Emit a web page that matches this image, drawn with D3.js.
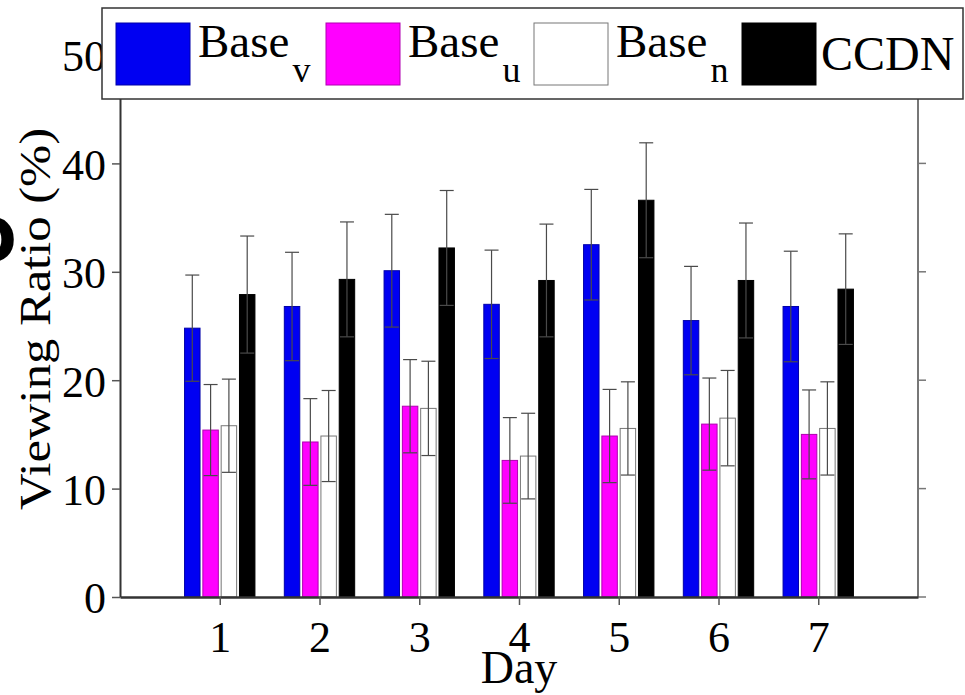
<!DOCTYPE html>
<html><head><meta charset="utf-8">
<script src="https://cdn.jsdelivr.net/npm/d3@7"></script>
<style>
html,body{margin:0;padding:0;background:#fff;}
svg{display:block;}
text{font-family:"Liberation Serif","Times New Roman",serif;fill:#000;}
</style></head>
<body>
<svg id="chart" width="965" height="695"></svg>
<script>
// ---- data ----
const days = [1, 2, 3, 4, 5, 6, 7];
const baseV = [24.8, 26.8, 30.1, 27.0, 32.5, 25.5, 26.8];
const baseVErr = [4.9, 5.0, 5.2, 5.0, 5.1, 5.0, 5.1];
const baseU = [15.4, 14.3, 17.6, 12.6, 14.85, 15.95, 15.0];
const baseUErr = [4.2, 4.0, 4.3, 3.95, 4.3, 4.25, 4.1];
const baseN = [15.8, 14.85, 17.4, 13.0, 15.55, 16.5, 15.55];
const baseNErr = [4.3, 4.2, 4.35, 3.95, 4.3, 4.4, 4.3];
const ccdn = [27.9, 29.3, 32.2, 29.2, 36.6, 29.2, 28.4];
const ccdnErr = [5.4, 5.3, 5.3, 5.2, 5.3, 5.3, 5.1];
const seriesNames = ["Base", "Base", "Base", "CCDN"];
const seriesSubs = ["v", "u", "n", ""];
const yTicks = [0, 10, 20, 30, 40, 50];
const xLabel = "Day";
const yLabel = "Viewing Ratio (%)";

const series = [
  {vals: baseV, err: baseVErr, fill: "#0000f2", stroke: "#0000a8"},
  {vals: baseU, err: baseUErr, fill: "#ff00ff", stroke: "#b000b0"},
  {vals: baseN, err: baseNErr, fill: "#ffffff", stroke: "#777777"},
  {vals: ccdn, err: ccdnErr, fill: "#000000", stroke: "#000000"}
];

const svg = d3.select("#chart");
const x = d3.scaleLinear().domain([0, 8]).range([120, 918]);
const y = d3.scaleLinear().domain([0, 50]).range([597, 55]);
const pitch = 0.1835, barW = 0.155;
const capHalf = 7;

// axis box
const g = svg.append("g");
g.append("line").attr("x1", x(8)).attr("x2", x(8)).attr("y1", y(50)).attr("y2", y(0))
  .attr("stroke", "#777").attr("stroke-width", 2);

// right ticks (outward)
g.selectAll(".rt").data(yTicks).enter().append("line")
  .attr("x1", x(8)).attr("x2", x(8) + 8)
  .attr("y1", d => y(d)).attr("y2", d => y(d))
  .attr("stroke", "#777").attr("stroke-width", 1.5);

// bars
series.forEach((s, i) => {
  const off = (i - 1.5) * pitch;
  const grp = g.append("g");
  grp.selectAll("rect").data(days).enter().append("rect")
    .attr("x", (d) => x(d + off - barW / 2))
    .attr("width", x(barW) - x(0))
    .attr("y", (d, j) => y(s.vals[j]))
    .attr("height", (d, j) => y(0) - y(s.vals[j]))
    .attr("fill", s.fill).attr("stroke", s.stroke).attr("stroke-width", 1);
});
// error bars
series.forEach((s, i) => {
  const off = (i - 1.5) * pitch;
  const eg = g.append("g").attr("stroke", "#4a4a4a").attr("stroke-width", 1.2).attr("fill", "none");
  days.forEach((d, j) => {
    const cx = x(d + off);
    const lo = s.vals[j] - s.err[j], hi = s.vals[j] + s.err[j];
    eg.append("line").attr("x1", cx).attr("x2", cx).attr("y1", y(lo)).attr("y2", y(hi));
    eg.append("line").attr("x1", cx - capHalf).attr("x2", cx + capHalf).attr("y1", y(hi)).attr("y2", y(hi));
    eg.append("line").attr("x1", cx - capHalf).attr("x2", cx + capHalf).attr("y1", y(lo)).attr("y2", y(lo));
  });
});

// left axis
const yAxis = d3.axisLeft(y).tickValues(yTicks).tickSize(8).tickSizeOuter(0).tickPadding(10).tickFormat(d3.format("d"));
const ya = svg.append("g").attr("transform", `translate(${x(0)},0)`).call(yAxis);
ya.select(".domain").attr("stroke", "#333").attr("stroke-width", 2);
ya.selectAll(".tick line").attr("stroke", "#555").attr("stroke-width", 1.5);
ya.selectAll(".tick text").attr("font-size", 44).attr("dy", "0.36em")
  .style("font-family", "'Liberation Serif', serif").attr("x", -14);

// bottom axis
const xAxis = d3.axisBottom(x).tickValues(days).tickSize(8).tickSizeOuter(0).tickPadding(16).tickFormat(d3.format("d"));
const xa = svg.append("g").attr("transform", `translate(0,${y(0)})`).call(xAxis);
xa.select(".domain").attr("stroke", "#333").attr("stroke-width", 2.5);
xa.selectAll(".tick line").attr("stroke", "#555").attr("stroke-width", 1.5);
xa.selectAll(".tick text").attr("font-size", 44).attr("dy", "0.71em")
  .style("font-family", "'Liberation Serif', serif");

// axis labels
svg.append("text").attr("x", (x(0) + x(8)) / 2).attr("y", 683)
  .attr("text-anchor", "middle").attr("font-size", 46).text(xLabel);
svg.append("text").attr("transform", "translate(50,319) rotate(-90)")
  .attr("text-anchor", "middle").attr("font-size", 44)
  .attr("textLength", 382).attr("lengthAdjust", "spacingAndGlyphs").text(yLabel);

// stray glyph at left edge
svg.append("text").attr("x", 17).attr("y", 263).attr("text-anchor", "end")
  .style("font-family", "'DejaVu Sans', sans-serif").attr("font-weight", "bold")
  .attr("font-size", 64).text("D");

// legend
const lg = svg.append("g");
lg.append("rect").attr("x", 102).attr("y", 8).attr("width", 861).attr("height", 91)
  .attr("fill", "#fff").attr("stroke", "#333").attr("stroke-width", 1.5);
const legX = [116, 326, 534, 742];
series.forEach((s, i) => {
  lg.append("rect").attr("x", legX[i]).attr("y", 23).attr("width", 74).attr("height", 62)
    .attr("fill", s.fill).attr("stroke", s.stroke).attr("stroke-width", 1);
  if (seriesSubs[i]) {
    const t = lg.append("text").attr("x", legX[i] + 82).attr("y", 57).attr("font-size", 47);
    t.append("tspan").text(seriesNames[i]);
    t.append("tspan").attr("dx", 3).attr("dy", 25).attr("font-size", 36).text(seriesSubs[i]);
  } else {
    lg.append("text").attr("x", legX[i] + 79).attr("y", 70).attr("font-size", 48).text(seriesNames[i]);
  }
});
</script>
</body></html>
